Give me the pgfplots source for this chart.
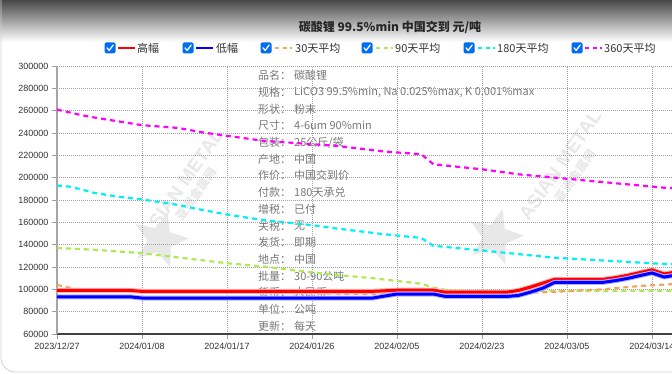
\documentclass[border=0pt]{standalone}
\usepackage{fontspec}
\setmainfont{Liberation Sans}
\newfontfamily\cjk{Noto Sans CJK SC}
\usepackage{pgfplots}
\pgfplotsset{compat=1.18}
\usetikzlibrary{shapes.geometric}
\definecolor{cbblue}{RGB}{0,110,240}
\definecolor{c30}{RGB}{244,164,96}
\definecolor{c90}{RGB}{173,235,80}
\definecolor{c180}{RGB}{0,240,250}
\definecolor{c360}{RGB}{255,0,255}
\definecolor{infogray}{RGB}{120,120,120}
\definecolor{ticktext}{RGB}{51,51,51}
\definecolor{chrome}{RGB}{72,72,72}
\definecolor{wm}{RGB}{232,232,232}

\newcommand{\cb}[2]{%
  \fill[cbblue, rounded corners=1.5pt] (#1-5.5,#2-5.5) rectangle (#1+5.5,#2+5.5);
  \draw[white, line width=1.3pt, line cap=round, line join=round] (#1-3,#2+0.2) -- (#1-0.8,#2-2.4) -- (#1+3.2,#2+3);}

\begin{document}
\begin{tikzpicture}[x=1pt,y=1pt]
\fill[white] (0,0) rectangle (672,374);
\shade[top color=chrome, bottom color=white] (0,374) rectangle (672,332);
\draw[gray!35, line width=0.8pt, rounded corners=14pt] (1,380) -- (1,2) -- (700,2);

% watermarks
\node[star, star points=5, star point ratio=2.3, fill=wm, minimum size=58pt, inner sep=0pt, rotate=-15] at (160,134) {};
\node[rotate=55, text=wm, font=\bfseries\fontsize{19}{19}\selectfont] at (182,190) {ASIAN METAL};
\node[rotate=55, text=wm, font=\cjk\bfseries\fontsize{12}{12}\selectfont] at (196,180) {亚洲金属网};
\node[star, star points=5, star point ratio=2.3, fill=wm, minimum size=58pt, inner sep=0pt, rotate=-15] at (495,137) {};
\node[rotate=55, text=wm, font=\bfseries\fontsize{19}{19}\selectfont] at (560,209) {ASIAN METAL};
\node[rotate=55, text=wm, font=\cjk\bfseries\fontsize{12}{12}\selectfont] at (575,198) {亚洲金属网};

% info block
\begin{scope}[every node/.style={anchor=west, inner sep=0pt, text=infogray, font=\cjk\fontsize{11}{11}\selectfont}]
\node at (258,298.3) {品名：}; \node at (294,298.3) {碳酸锂};
\node at (258,281.6) {规格：}; \node at (294,281.6) {LiCO3 99.5\%min, Na 0.025\%max, K 0.001\%max};
\node at (258,264.9) {形状：}; \node at (294,264.9) {粉末};
\node at (258,248.2) {尺寸：}; \node at (294,248.2) {4-6um 90\%min};
\node at (258,231.5) {包装：}; \node at (294,231.5) {25公斤/袋};
\node at (258,214.8) {产地：}; \node at (294,214.8) {中国};
\node at (258,198.2) {作价：}; \node at (294,198.2) {中国交到价};
\node at (258,181.5) {付款：}; \node at (294,181.5) {180天承兑};
\node at (258,164.8) {增税：}; \node at (294,164.8) {已付};
\node at (258,148.1) {关税：}; \node at (294,148.1) {无};
\node at (258,131.4) {发货：}; \node at (294,131.4) {即期};
\node at (258,114.7) {地点：}; \node at (294,114.7) {中国};
\node at (258,98.0) {批量：}; \node at (294,98.0) {30-90公吨};
\node at (258,81.3) {货币：}; \node at (294,81.3) {人民币};
\node at (258,64.6) {单位：}; \node at (294,64.6) {公吨};
\node at (258,47.9) {更新：}; \node at (294,47.9) {每天};
\end{scope}

\begin{axis}[
  at={(57pt,40pt)}, anchor=south west, scale only axis,
  width=615pt, height=268pt,
  xmin=0, xmax=50.65, ymin=60000, ymax=300000,
  axis x line*=bottom, axis y line*=left,
  x axis line style={-, line width=1.2pt, color=black!75},
  y axis line style={-, line width=2.6pt, color=gray!70},
  xtick={0,7,14,21,28,35,42,49},
  xticklabels={2023/12/27,2024/01/08,2024/01/17,2024/01/26,2024/02/05,2024/02/23,2024/03/05,2024/03/14},
  ytick={60000,80000,...,300000},
  scaled y ticks=false,
  /pgf/number format/fixed, /pgf/number format/1000 sep={},
  /pgf/number format/assume math mode=true,
  tick label style={font=\fontsize{9}{9}\selectfont, color=ticktext},
  grid=major,
  major grid style={dash pattern=on 1pt off 1pt, color=gray!75, line width=0.6pt},
  tick align=outside, major tick length=5pt,
  tick style={color=gray!75, line width=0.8pt},
  every axis plot/.append style={line join=round},
]
% 360-day average
\addplot[c360, line width=2.2pt, dash pattern=on 5pt off 4pt] coordinates {
(0,261000) (2,256000) (3,254000) (7,247000) (10,244500) (12,240500) (14,237500)
(17,233000) (19,231500) (23,228500) (27,223400) (30,221000) (31,212000)
(35,207500) (38,203000) (42,199000) (46,195000) (50,191000) (51,190500)};
% 180-day average
\addplot[c180, line width=2.2pt, dash pattern=on 5pt off 4pt] coordinates {
(0,193000) (1,192000) (2,189500) (3,186500) (5,183000) (7,180500) (10,175500)
(12,171000) (14,167000) (17,162000) (21,157500) (23,154500) (27,149300)
(30,146000) (31,139000) (35,134800) (41,128300) (49,123300) (51,122300)};
% 90-day average
\addplot[c90, line width=2.2pt, dash pattern=on 5pt off 4pt] coordinates {
(0,137000) (3,135500) (7,132400) (10,128500) (14,123400) (17,120400) (20,116500)
(23,112900) (26,110000) (28,107500) (30,105000) (31,101500) (32,99500)
(34,98500) (36,98300) (40,98500) (51,98700)};
% 30-day average
\addplot[c30, line width=2.2pt, dash pattern=on 5pt off 4pt] coordinates {
(0,104000) (1,101500) (2,99500) (5,98800) (10,97800) (20,96500) (26,95800)
(30,96000) (35,96500) (39,97000) (41,97800) (45,100000) (48,103000) (51,104800)};
% high
\addplot[red, line width=3pt, preaction={draw, red!30, line width=5pt}] coordinates {
(0,99000) (6,99000) (7,98200) (26,98200) (27,98700) (28,99200) (31,99200)
(32,97400) (37,97400) (38,99000) (39,102000) (40,105500) (41,109000) (45,109000)
(46,110500) (47,112500) (48,115000) (49,117400) (50,113800) (51,115500)};
% low
\addplot[blue, line width=3pt, preaction={draw, blue!30, line width=5pt}] coordinates {
(0,93300) (6,93300) (7,92200) (26,92200) (27,94000) (28,95800) (31,95800)
(32,93600) (37,93600) (38,94500) (39,97500) (40,101000) (41,106300) (45,106300)
(46,107800) (47,109800) (48,112300) (49,114700) (50,111000) (51,112800)};
\end{axis}

% title
\node[font=\cjk\bfseries\fontsize{12}{12}\selectfont, text=black!85] at (390,347) {碳酸锂 99.5\%min 中国交到 元/吨};

% legend
\begin{scope}[every node/.style={anchor=west, inner sep=0pt, text=ticktext, font=\cjk\fontsize{11}{11}\selectfont}]
\cb{110}{326} \draw[red, line width=2.6pt] (118,326) -- (135,326); \node at (137,326) {高幅};
\cb{188}{326} \draw[blue, line width=2.6pt] (196,326) -- (213,326); \node at (216,326) {低幅};
\cb{266}{326} \draw[c30, line width=2pt, dash pattern=on 4pt off 3.5pt] (275,326) -- (292,326); \node at (295,326) {30天平均};
\cb{367}{326} \draw[c90, line width=2pt, dash pattern=on 4pt off 3.5pt] (376,326) -- (393,326); \node at (395,326) {90天平均};
\cb{469}{326} \draw[c180, line width=2pt, dash pattern=on 4pt off 3.5pt] (478,326) -- (495,326); \node at (497,326) {180天平均};
\cb{577}{326} \draw[c360, line width=2pt, dash pattern=on 4pt off 3.5pt] (585,326) -- (602,326); \node at (604,326) {360天平均};
\end{scope}

\pgfresetboundingbox
\useasboundingbox (0,0) rectangle (672,374);
\end{tikzpicture}
\end{document}
